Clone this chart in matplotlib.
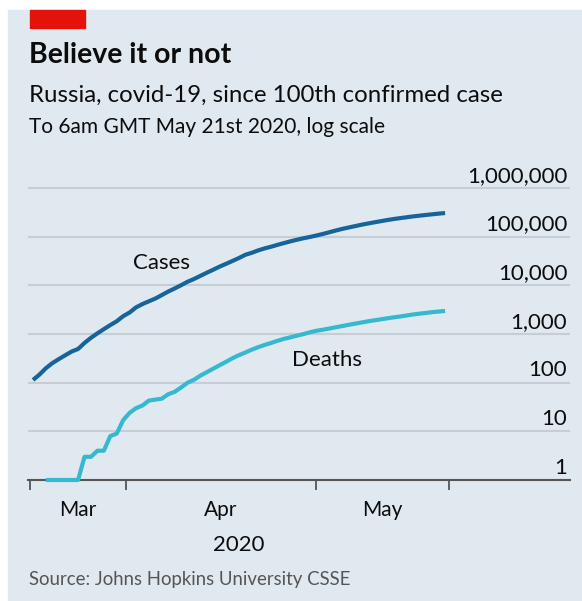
import numpy as np
import matplotlib.pyplot as plt
from matplotlib.patches import Rectangle
from matplotlib.transforms import blended_transform_factory

# days since 100th case (day 0 = Mar 17th)
cases = [114, 147, 199, 253, 306, 367, 438, 495, 658, 840,
         1036, 1264, 1534, 1836, 2337, 2777, 3548, 4149, 4731, 5389,
         6343, 7497, 8672, 10131, 11917, 13584, 15770, 18328, 21102, 24490,
         27938, 32008, 36793, 42853, 47121, 52763, 57999, 62773, 68622, 74588,
         80949, 87147, 93558, 99399, 106498, 114431, 124054, 134687, 145268, 155370,
         165929, 177160, 187859, 198676, 209688, 221344, 232243, 242271, 252245, 262843,
         272043, 281752, 290678, 299941, 308705]
deaths_start = 2
deaths = [1, 1, 1, 1, 1, 1, 3, 3, 4, 4,
          8, 9, 17, 24, 30, 34, 43, 45, 47, 58,
          65, 80, 100, 115, 140, 165, 195, 230, 270, 320,
          370, 420, 480, 540, 600, 660, 730, 800, 860, 930,
          1000, 1090, 1170, 1230, 1300, 1380, 1460, 1550, 1640, 1730,
          1830, 1920, 2010, 2110, 2210, 2300, 2410, 2530, 2630, 2720,
          2830, 2910, 2990]

y_levels = [1, 10, 100, 1000, 10000, 100000, 1000000]
y_labels = ["1", "10", "100", "1,000", "10,000", "100,000", "1,000,000"]
tick_days = [-0.5, 14.5, 44, 64.6]
month_days = [7, 29.2, 54.2]
month_labels = ["Mar", "Apr", "May"]

plt.rcParams['font.family'] = ['Lato', 'DejaVu Sans']

W, H = 582, 601
fig = plt.figure(figsize=(W / 100, H / 100), dpi=100)
fig.patch.set_facecolor("white")

# background panel and red tag
fig.patches.append(Rectangle((8 / W, 0), 1, (H - 10) / H, transform=fig.transFigure,
                             color="#e1e9f0", zorder=-10))
fig.patches.append(Rectangle((30 / W, (H - 28) / H), 55 / W, 18 / H, transform=fig.transFigure,
                             color="#e3120b", zorder=-5))

fig.text(29 / W, 1 - 55 / H, "Believe it or not", fontsize=20.5, fontweight="bold",
         va="center", ha="left", color="#0c0c0c")
fig.text(29 / W, 1 - 95 / H, "Russia, covid-19, since 100th confirmed case", fontsize=17.3,
         va="center", ha="left", color="#0c0c0c")
fig.text(29 / W, 1 - 127 / H, "To 6am GMT May 21st 2020, log scale", fontsize=15,
         va="center", ha="left", color="#0c0c0c")
fig.text(29 / W, 1 - 580 / H, "Source: Johns Hopkins University CSSE", fontsize=13.4,
         va="center", ha="left", color="#555555")

ax = fig.add_axes([28 / W, (H - 480) / H, (570 - 28) / W, 320 / H])
ax.set_facecolor("none")
ax.set_yscale("log")
ax.set_ylim(1, 10 ** 6.58)
ax.set_xlim(-0.78, 83.4)

for lev in y_levels[1:]:
    ax.axhline(lev, color="#c6cdd4", lw=1.5, zorder=1)

trans = blended_transform_factory(ax.transAxes, ax.transData)
for lev, lab in zip(y_levels, y_labels):
    ax.text(0.995, lev * 1.12, lab, transform=trans, ha="right", va="bottom",
            fontsize=16, color="#0c0c0c")

days = np.arange(len(cases))
ddays = np.arange(deaths_start, deaths_start + len(deaths))
ax.plot(days, cases, color="#17649a", lw=3, solid_capstyle="butt", zorder=3)
ax.plot(ddays, deaths, color="#36b8d0", lw=3, solid_capstyle="butt", zorder=3, clip_on=False)

ax.text(20.0, 2.9e4, "Cases", fontsize=16, ha="center", va="center", color="#0c0c0c")
ax.text(45.7, 295, "Deaths", fontsize=16, ha="center", va="center", color="#0c0c0c")

for s in ["top", "right", "left"]:
    ax.spines[s].set_visible(False)
ax.spines["bottom"].set_color("#555555")
ax.spines["bottom"].set_linewidth(1.5)
ax.spines["bottom"].set_zorder(2)

ax.set_yticks([])
ax.minorticks_off()
ax.yaxis.set_minor_locator(plt.NullLocator())
ax.set_xticks(tick_days)
ax.set_xticklabels([])
ax.tick_params(axis="x", direction="out", length=7, width=1.3, color="#555555")

xtrans = blended_transform_factory(ax.transData, fig.transFigure)
for d, lab in zip(month_days, month_labels):
    ax.text(d, 1 - 510 / H, lab, transform=xtrans, ha="center", va="center",
            fontsize=15, color="#0c0c0c")
ax.text(32, 1 - 545 / H, "2020", transform=xtrans, ha="center", va="center",
        fontsize=16, color="#0c0c0c")

fig.savefig("out.png", dpi=100)
